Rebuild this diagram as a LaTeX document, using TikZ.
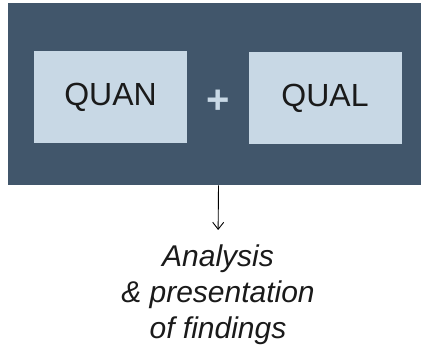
\documentclass[tikz,border=0pt]{standalone}
\usepackage{fontspec}
\setmainfont{Liberation Sans}
\usetikzlibrary{arrows.meta}
\definecolor{slate}{HTML}{41566B}
\definecolor{pale}{HTML}{C8D8E5}
\definecolor{ink}{HTML}{1A1A1A}
\begin{document}
\begin{tikzpicture}[x=1pt,y=-1pt,
  box/.style={fill=pale,draw=none,inner sep=0pt,minimum width=153pt,minimum height=92pt,
    text=ink,font=\fontsize{32}{38}\selectfont},
  link/.style={draw=black,line width=0.9pt,-{Straight Barb[length=7pt,width=11pt]}}]
  \useasboundingbox (0,0) rectangle (421,352);
  % dark panel behind the two method boxes
  \node[fill=slate,draw=none,inner sep=0pt,minimum width=413pt,minimum height=182pt,anchor=north west] (panel) at (8,3) {};
  \node[box] (quan) at (110.5,97) {QUAN};
  \node[box] (qual) at (325,98) {QUAL};
  \node[text=pale,inner sep=0pt,font=\fontsize{40}{40}\bfseries\selectfont] (plus) at (218.5,102) {+};
  % outcome text
  \node[align=center,inner sep=0pt,anchor=north,text=ink,
        font=\fontsize{30}{36}\itshape\selectfont] (result) at (218,245)
        {Analysis\\\& presentation\\of findings};
  \draw[link,shorten >=15pt] (plus |- panel.south) -- (result.north);
\end{tikzpicture}
\end{document}
